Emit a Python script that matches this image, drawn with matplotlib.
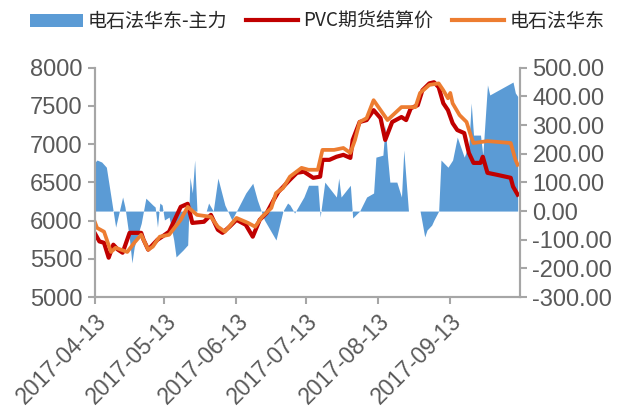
import matplotlib
matplotlib.use("Agg")
import matplotlib.pyplot as plt
import matplotlib.dates as mdates
from matplotlib.patches import Patch
from matplotlib.lines import Line2D
import pandas as pd

plt.rcParams['font.family'] = ['Liberation Sans', 'Noto Sans CJK SC', 'DejaVu Sans']

# ---- data ----
futures_dates = ["2017-04-13","2017-04-15","2017-04-17","2017-04-19","2017-04-21","2017-04-23","2017-04-25",
    "2017-04-28","2017-05-03","2017-05-04","2017-05-06","2017-05-10","2017-05-12","2017-05-15","2017-05-18",
    "2017-05-20","2017-05-23","2017-05-25","2017-05-30","2017-06-02","2017-06-05","2017-06-07","2017-06-10",
    "2017-06-13","2017-06-17","2017-06-20","2017-06-23","2017-06-26","2017-06-29","2017-07-01","2017-07-06",
    "2017-07-09","2017-07-12","2017-07-14","2017-07-16","2017-07-19","2017-07-20","2017-07-23","2017-07-26",
    "2017-07-29","2017-08-01","2017-08-02","2017-08-05","2017-08-08","2017-08-11","2017-08-14","2017-08-16",
    "2017-08-19","2017-08-23","2017-08-25","2017-08-27","2017-08-30","2017-09-01","2017-09-04","2017-09-06",
    "2017-09-08","2017-09-10","2017-09-12","2017-09-14","2017-09-16","2017-09-19","2017-09-21","2017-09-23",
    "2017-09-26","2017-09-27","2017-09-29","2017-10-03","2017-10-09","2017-10-10","2017-10-12"]
futures_price = [5837,5728,5710,5515,5685,5620,5580,
    5840,5840,5750,5620,5750,5790,5855,6050,
    6180,6220,5970,5985,6075,5880,5840,5920,
    6010,5945,5790,6010,6100,6270,6375,6535,
    6625,6640,6600,6560,6575,6795,6795,6835,
    6860,6820,7055,7290,7315,7445,7340,7055,
    7290,7355,7315,7470,7510,7705,7795,7810,
    7745,7535,7445,7275,7185,7145,6885,6755,
    6755,6835,6625,6600,6560,6445,6340]

spot_dates = ["2017-04-13","2017-04-14","2017-04-17","2017-04-20","2017-04-22","2017-04-27","2017-04-30",
    "2017-05-03","2017-05-06","2017-05-08","2017-05-10","2017-05-11","2017-05-15","2017-05-20","2017-05-23",
    "2017-05-27","2017-06-02","2017-06-05","2017-06-08","2017-06-13","2017-06-18","2017-06-21","2017-06-24",
    "2017-06-28","2017-06-30","2017-07-03","2017-07-06","2017-07-11","2017-07-14","2017-07-18","2017-07-20",
    "2017-07-25","2017-07-29","2017-08-01","2017-08-03","2017-08-05","2017-08-08","2017-08-11","2017-08-14",
    "2017-08-17","2017-08-23","2017-08-29","2017-08-31","2017-09-04","2017-09-08","2017-09-10","2017-09-12",
    "2017-09-13","2017-09-14","2017-09-17","2017-09-20","2017-09-22","2017-09-23","2017-09-29","2017-10-09",
    "2017-10-11","2017-10-12"]
spot_price = [5985,5905,5855,5590,5645,5590,5710,
    5815,5620,5660,5750,5790,5815,6010,6180,
    6075,6050,5920,5855,6035,5970,5920,6050,
    6165,6360,6425,6575,6690,6665,6665,6925,
    6925,6950,6885,7055,7290,7340,7575,7445,
    7315,7485,7485,7670,7775,7795,7705,7600,
    7670,7535,7380,7290,7095,7015,7040,7015,
    6800,6730]

basis_dates = ["2017-04-13","2017-04-14","2017-04-16","2017-04-18","2017-04-20","2017-04-22","2017-04-25",
    "2017-04-26","2017-04-28","2017-04-29","2017-04-30","2017-05-03","2017-05-05","2017-05-08","2017-05-09",
    "2017-05-10","2017-05-11","2017-05-12","2017-05-13","2017-05-15","2017-05-17","2017-05-18","2017-05-21",
    "2017-05-23","2017-05-24","2017-05-25","2017-05-26","2017-05-27","2017-05-31","2017-06-01","2017-06-03",
    "2017-06-05","2017-06-08","2017-06-11","2017-06-13","2017-06-17","2017-06-20","2017-06-22","2017-06-25",
    "2017-06-30","2017-07-03","2017-07-05","2017-07-06","2017-07-08","2017-07-12","2017-07-14","2017-07-18",
    "2017-07-19","2017-07-21","2017-07-26","2017-07-27","2017-07-28","2017-08-01","2017-08-02","2017-08-05",
    "2017-08-08","2017-08-11","2017-08-12","2017-08-15","2017-08-16","2017-08-17","2017-08-18","2017-08-21",
    "2017-08-23","2017-08-24","2017-08-26","2017-08-31","2017-09-02","2017-09-03","2017-09-05","2017-09-06",
    "2017-09-08","2017-09-09","2017-09-12","2017-09-14","2017-09-16","2017-09-19","2017-09-21","2017-09-22",
    "2017-09-23","2017-09-26","2017-09-27","2017-09-29","2017-09-30","2017-10-10","2017-10-11","2017-10-12"]
basis = [170,178,171,153,49,-56,49,
    14,-101,-181,-125,-43,45,21,14,
    -56,28,21,-31,-21,-101,-160,-136,
    -118,118,63,178,0,0,28,0,
    115,21,-31,0,63,97,38,-31,
    -101,0,28,21,-7,49,90,90,
    -21,101,49,115,49,90,-24,0,
    49,63,188,195,300,188,101,101,
    49,213,0,0,-90,-66,-49,-31,
    0,178,153,178,258,188,230,377,
    265,265,195,440,405,450,412,400]

legend_labels = ["电石法华东-主力", "PVC期货结算价", "电石法华东"]
left_ticks = [5000, 5500, 6000, 6500, 7000, 7500, 8000]
right_ticks = [-300, -200, -100, 0, 100, 200, 300, 400, 500]
x_ticks = ["2017-04-13", "2017-05-13", "2017-06-13", "2017-07-13", "2017-08-13", "2017-09-13"]

c_blue = "#5B9BD5"
c_red = "#C00000"
c_orange = "#ED7D31"
c_axis = "#A6A6A6"
c_text = "#595959"

fig = plt.figure(figsize=(6.22, 4.19), dpi=100)
ax = fig.add_axes([0.1523, 0.291, 0.836 - 0.1523, 0.8384 - 0.291])
ax2 = ax.twinx()
ax.set_zorder(ax2.get_zorder() + 1)
ax.patch.set_visible(False)

bd = pd.to_datetime(basis_dates)
ax2.fill_between(bd, 0, basis, color=c_blue, linewidth=0)
ax.plot(pd.to_datetime(futures_dates), futures_price, color=c_red, lw=3.0, solid_joinstyle='round')
ax.plot(pd.to_datetime(spot_dates), spot_price, color=c_orange, lw=2.7, solid_joinstyle='round')

ax.set_xlim(pd.Timestamp("2017-04-13"), pd.Timestamp("2017-10-13"))
ax.set_ylim(5000, 8000)
ax2.set_ylim(-300, 500)

ax.set_yticks(left_ticks)
ax.set_yticklabels([str(v) for v in left_ticks])
ax2.set_yticks(right_ticks)
ax2.set_yticklabels([f"{v:.2f}" for v in right_ticks])
ax.set_xticks(pd.to_datetime(x_ticks))
ax.set_xticklabels(x_ticks, rotation=45, ha='right', rotation_mode='anchor')

for a in (ax, ax2):
    for s in a.spines.values():
        s.set_color(c_axis)
        s.set_linewidth(1.5)
    a.spines['top'].set_visible(False)
    a.tick_params(colors=c_axis, labelcolor=c_text, labelsize=17, width=1.5, length=5, direction='out')
ax.tick_params(axis='x', labelsize=16.5, pad=4)
ax.tick_params(axis='y', pad=4)
ax2.tick_params(axis='y', pad=4)

handles = [Patch(facecolor=c_blue, edgecolor='none'),
           Line2D([], [], color=c_red, lw=3.0),
           Line2D([], [], color=c_orange, lw=3.0)]
fig.legend(handles, legend_labels, loc='upper center', bbox_to_anchor=(0.51, 1.015), ncol=3,
           frameon=False, prop={'family': ['Noto Sans CJK SC', 'DejaVu Sans'], 'size': 13.7},
           handlelength=2.75, handletextpad=0.25, columnspacing=1.0, labelcolor='#262626')

fig.savefig("out.png", dpi=100)
